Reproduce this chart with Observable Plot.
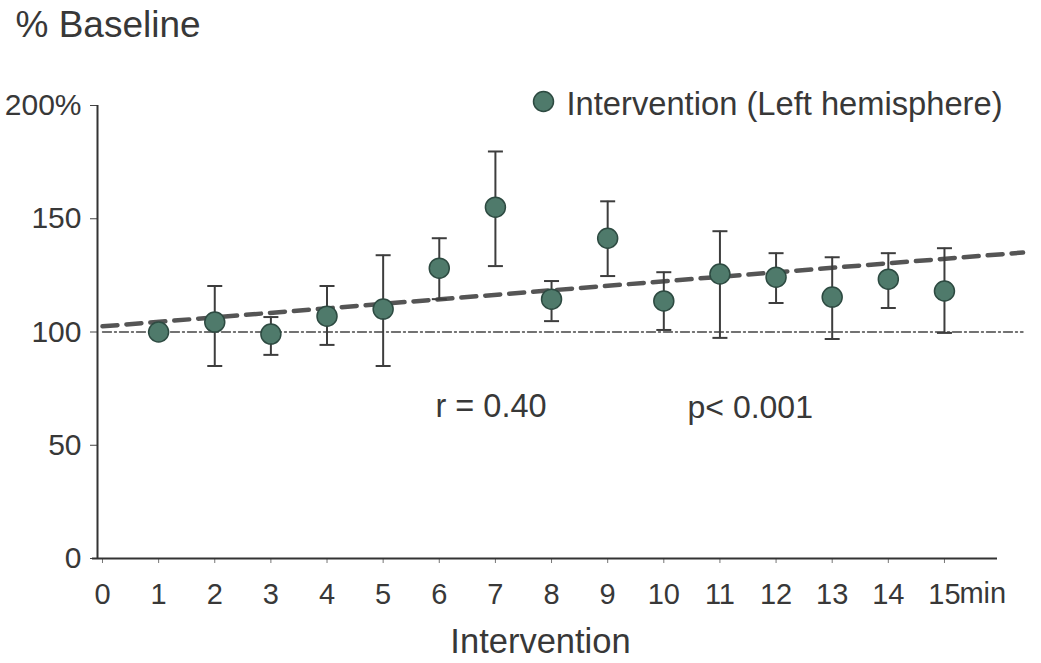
<!DOCTYPE html>
<html>
<head>
<meta charset="utf-8">
<script src="https://cdn.jsdelivr.net/npm/d3@7"></script>
<script src="https://cdn.jsdelivr.net/npm/@observablehq/plot@0.6"></script>
<style>
  html, body { margin: 0; padding: 0; background: #fff; }
  #chart svg { display: block; }
</style>
</head>
<body>
<div id="chart"></div>
<script>
// ---- data ----
const minutes = [1, 2, 3, 4, 5, 6, 7, 8, 9, 10, 11, 12, 13, 14, 15];
const meanPct = [100, 104.4, 99.1, 107, 110.1, 128.2, 155.1, 114.5, 141.4, 113.7, 125.6, 124.2, 115.4, 123.3, 118.1];
const upperPct = [null, 120.3, 106.6, 120.3, 133.9, 141.4, 179.7, 122.5, 157.7, 126.4, 144.5, 134.8, 133.0, 134.8, 137.0];
const lowerPct = [null, 85.0, 89.9, 94.3, 85.0, 114.5, 129.1, 104.8, 124.7, 100.9, 97.4, 112.8, 96.9, 110.6, 99.6];

const trendX = [0, 16.4];
const trendY = [102.5, 135.1];
const baselineX = [0, 16.4];
const baselineY = [100, 100];

const xTicks = [0, 1, 2, 3, 4, 5, 6, 7, 8, 9, 10, 11, 12, 13, 14, 15];
const xTickLabels = ["0", "1", "2", "3", "4", "5", "6", "7", "8", "9", "10", "11", "12", "13", "14", "15"];
const yTicks = [0, 50, 100, 150, 200];
const yTickLabels = ["0", "50", "100", "150", "200%"];

const xDomain = [-0.089, 15.945];
const yDomain = [0, 200];

// ---- build tables ----
const points = minutes.map((m, i) => ({x: m, y: meanPct[i], lo: lowerPct[i], hi: upperPct[i]}));
const bars = points.filter(d => d.hi != null);
const caps = bars.flatMap(d => [{x: d.x, y: d.hi}, {x: d.x, y: d.lo}]);
const trend = trendX.map((x, i) => ({x, y: trendY[i]}));
const baseline = baselineX.map((x, i) => ({x, y: baselineY[i]}));

const capSymbol = { draw(ctx) { ctx.moveTo(-7.5, 0); ctx.lineTo(7.5, 0); } };

const textColor = "#383838";
const font = "'Liberation Sans', Arial, sans-serif";
const dotFill = "#4f7a6b";
const dotStroke = "#2d4a41";

const chart = Plot.plot({
  width: 1041,
  height: 663,
  marginLeft: 97,
  marginRight: 44,
  marginTop: 105,
  marginBottom: 105,
  x: {domain: xDomain},
  y: {domain: yDomain},
  style: {fontFamily: font, color: textColor, background: "#fff"},
  marks: [
    Plot.axisY({ticks: yTicks, tickFormat: d => yTickLabels[yTicks.indexOf(d)], tickSize: 7, tickPadding: 9,
      fontSize: 30, label: null, stroke: "#444", fill: textColor}),
    Plot.axisX({ticks: xTicks, tickFormat: d => xTickLabels[xTicks.indexOf(d)], tickSize: 5, tickPadding: 20,
      fontSize: 29, label: null, stroke: "#777", fill: textColor}),
    Plot.text(["min"], {x: 15, y: yDomain[0], dx: 15, dy: 35, textAnchor: "start", lineAnchor: "middle",
      fontSize: 29, fill: textColor}),
    // axis lines
    Plot.ruleX([xDomain[0]], {y1: yDomain[0], y2: yDomain[1], stroke: "#333", strokeWidth: 2}),
    Plot.ruleY([yDomain[0]], {x1: xDomain[0] - 0.09, x2: xDomain[1], stroke: "#333", strokeWidth: 2}),
    // reference & trend lines
    Plot.line(baseline, {x: "x", y: "y", stroke: "#444", strokeWidth: 1.3, strokeDasharray: "9,3,2,3"}),
    Plot.line(trend, {x: "x", y: "y", stroke: "#555", strokeWidth: 4.5, strokeDasharray: "15,9"}),
    // error bars
    Plot.ruleX(bars, {x: "x", y1: "lo", y2: "hi", stroke: "#3d3d3d", strokeWidth: 2}),
    Plot.dot(caps, {x: "x", y: "y", symbol: capSymbol, fill: "none", stroke: "#3d3d3d", strokeWidth: 2}),
    // points
    Plot.dot(points, {x: "x", y: "y", r: 10, fill: dotFill, stroke: dotStroke, strokeWidth: 1.5}),
    // legend
    Plot.dot([0], {frameAnchor: "top-left", dx: 446, dy: -4, r: 10, fill: dotFill, stroke: dotStroke, strokeWidth: 1.5}),
    Plot.text(["Intervention (Left hemisphere)"], {frameAnchor: "top-left", dx: 469, dy: -1, textAnchor: "start",
      lineAnchor: "middle", fontSize: 32.7, fill: textColor}),
    // annotations
    Plot.text(["r = 0.40"], {frameAnchor: "top-left", dx: 338, dy: 301, textAnchor: "start", lineAnchor: "middle",
      fontSize: 32.5, fill: textColor}),
    Plot.text(["p< 0.001"], {frameAnchor: "top-left", dx: 590, dy: 302, textAnchor: "start", lineAnchor: "middle",
      fontSize: 32, fill: textColor}),
    // titles
    Plot.text(["% Baseline"], {frameAnchor: "top-left", dx: -82, dy: -80, textAnchor: "start", lineAnchor: "middle",
      fontSize: 37, fill: textColor}),
    Plot.text(["Intervention"], {frameAnchor: "bottom", dx: -7, dy: 83, textAnchor: "middle", lineAnchor: "middle",
      fontSize: 34.5, fill: textColor})
  ]
});
document.getElementById("chart").appendChild(chart);
</script>
</body>
</html>
